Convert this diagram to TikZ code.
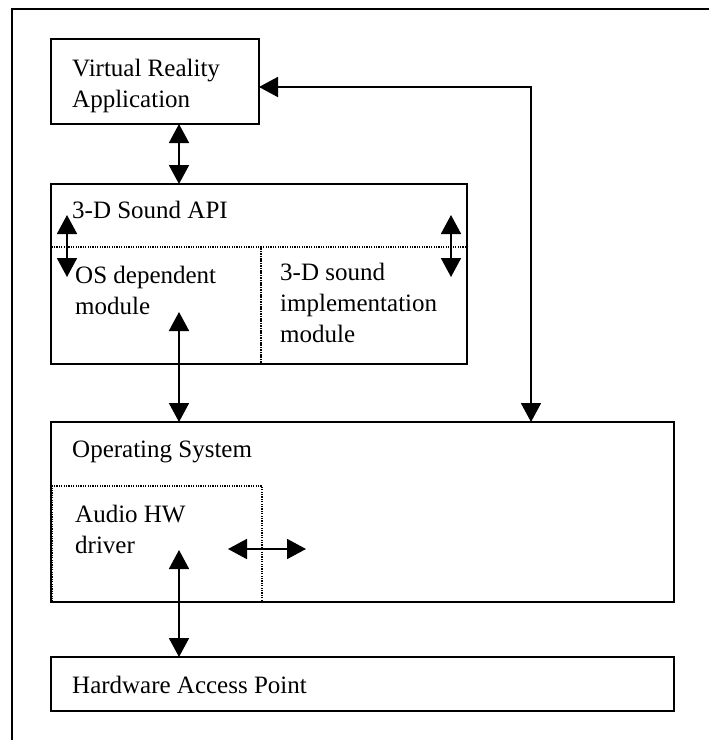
\documentclass[tikz,border=0pt]{standalone}
\usepackage{fontspec}
\setmainfont{Liberation Serif}
\usetikzlibrary{arrows.meta,positioning,fit}
\begin{document}
\begin{tikzpicture}[x=1pt,y=-1pt,
  box/.style={draw,line width=1.8pt,inner sep=0pt,outer sep=0pt},
  dotbox/.style={draw,line width=1.3pt,dash pattern=on 1.2pt off 1.2pt,inner sep=0pt,outer sep=0pt},
  lbl/.style={anchor=base west,inner sep=0pt,align=left,
    font=\fontsize{25pt}{31pt}\selectfont},
  link/.style={line width=1.8pt,{Triangle[length=19pt,width=20pt]}-{Triangle[length=19pt,width=20pt]}}]
\useasboundingbox (0,0) rectangle (709,740);
% outer frame (only its top and left sides fall on the page)
\draw[line width=1.8pt] (12,760) -- (12,9) -- (730,9);

% boxes
\node[box,fit={(51,39) (259,124)}] (vr) {};
\node[box,fit={(51,184) (467,364)}] (api) {};
\node[dotbox,fit={(51,247) (261,364)}] (osm) {};
\node[dotbox,fit={(261,247) (467,364)}] (impl) {};
\node[box,fit={(51,422) (674,602)}] (os) {};
\node[dotbox,fit={(52,486) (262,602)}] (drv) {};
\node[box,fit={(51,657) (674,711)}] (hap) {};

% labels (multi-line labels are placed by their last baseline)
\node[lbl] (vrt) at (72,107) {Virtual Reality\\Application};
\node[lbl] (apit) at (72,218) {3-D Sound API};
\node[lbl] (osmt) at (75,314) {OS dependent\\module};
\node[lbl] (implt) at (280,342) {3-D sound\\implementation\\module};
\node[lbl] (ost) at (72,457) {Operating System};
\node[lbl] (drvt) at (75,553) {Audio HW\\driver};
\node[lbl] (hapt) at (72,693) {Hardware Access Point};

% free arrow ends
\coordinate (apiL1) at (67,215);
\coordinate (apiL2) at (67,277);
\coordinate (apiR1) at (451,215);
\coordinate (apiR2) at (451,277);
\coordinate (osmA) at (179,312);
\coordinate (drvA) at (179,550);
\coordinate (hz1) at (228,549);
\coordinate (hz2) at (306,549);
\coordinate (turn) at (531,87);

% connectors
\draw[link] (vr.south -| osmA) -- (api.north -| osmA);
\draw[link] (apiL1) -- (apiL2);
\draw[link] (apiR1) -- (apiR2);
\draw[link] (osmA) -- (os.north -| osmA);
\draw[link] (vr.east |- turn) -- (turn) -- (turn |- os.north);
\draw[link] (drvA) -- (hap.north -| drvA);
\draw[link] (hz1) -- (hz2);
\end{tikzpicture}
\end{document}
